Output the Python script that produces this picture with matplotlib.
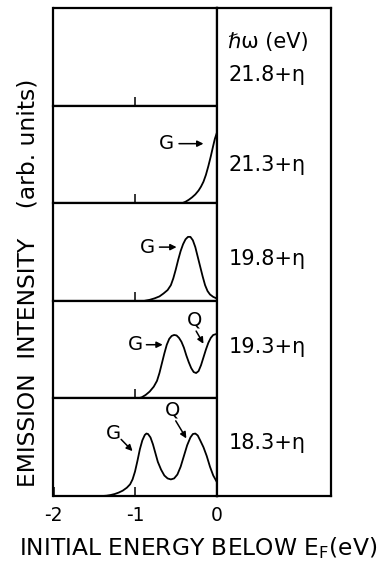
#!/usr/bin/env python3
"""
Photoemission energy distribution curves at several photon energies
(stacked panels, G and Q features marked).
Output: out.png  (387 x 564 px)
"""

import matplotlib
matplotlib.use("Agg")
import matplotlib.pyplot as plt

plt.rcParams['font.family'] = ['DejaVu Sans']
plt.rcParams['mathtext.default'] = 'regular'

# ── DATA ──────────────────────────────────────────────────────────────────
photon_labels = ["21.8+η", "21.3+η", "19.8+η", "19.3+η", "18.3+η"]

# panel 1 (21.8 eV) is empty
e_213 = [-0.42, -0.38, -0.34, -0.30, -0.26, -0.22, -0.19, -0.16, -0.13,
         -0.10, -0.07, -0.04, -0.02, 0.0]
i_213 = [0.00, 0.015, 0.035, 0.06, 0.09, 0.13, 0.17, 0.22, 0.29,
         0.38, 0.48, 0.59, 0.66, 0.71]

e_198 = [-0.88, -0.82, -0.76, -0.70, -0.65, -0.60, -0.56, -0.53, -0.50,
         -0.47, -0.44, -0.41, -0.38, -0.35, -0.32, -0.29, -0.26, -0.23,
         -0.20, -0.17, -0.14, -0.11, -0.08, -0.04, 0.0]
i_198 = [0.00, 0.01, 0.025, 0.045, 0.075, 0.11, 0.16, 0.23, 0.32,
         0.42, 0.51, 0.58, 0.63, 0.655, 0.655, 0.62, 0.55, 0.45,
         0.35, 0.25, 0.16, 0.10, 0.065, 0.04, 0.025]

e_193 = [-0.97, -0.92, -0.87, -0.82, -0.77, -0.73, -0.70, -0.67, -0.64,
         -0.61, -0.58, -0.55, -0.52, -0.49, -0.46, -0.43, -0.40, -0.37,
         -0.34, -0.31, -0.28, -0.25, -0.22, -0.19, -0.16, -0.13, -0.10,
         -0.07, -0.04, 0.0]
i_193 = [0.00, 0.01, 0.035, 0.07, 0.12, 0.18, 0.26, 0.36, 0.46,
         0.55, 0.61, 0.64, 0.65, 0.645, 0.62, 0.58, 0.52, 0.44,
         0.37, 0.31, 0.27, 0.26, 0.28, 0.34, 0.42, 0.50, 0.57,
         0.62, 0.65, 0.66]

e_183 = [-2.0, -1.40, -1.35, -1.30, -1.25, -1.20, -1.15, -1.10, -1.06,
         -1.03, -1.00, -0.97, -0.94, -0.91, -0.88, -0.86, -0.84, -0.81,
         -0.78, -0.75, -0.72, -0.68, -0.64, -0.60, -0.56, -0.52, -0.48,
         -0.44, -0.40, -0.36, -0.32, -0.29, -0.26, -0.23, -0.20, -0.16,
         -0.12, -0.08, -0.04, 0.0]
i_183 = [0.0, 0.0, 0.003, 0.01, 0.02, 0.035, 0.055, 0.085, 0.12,
         0.17, 0.25, 0.36, 0.48, 0.57, 0.625, 0.64, 0.635, 0.60,
         0.53, 0.44, 0.35, 0.27, 0.21, 0.18, 0.17, 0.18, 0.22,
         0.30, 0.41, 0.52, 0.60, 0.635, 0.64, 0.62, 0.57, 0.50,
         0.41, 0.30, 0.21, 0.15]

curves = [None, (e_213, i_213), (e_198, i_198), (e_193, i_193), (e_183, i_183)]

# feature labels: panel, text, text position, arrow tail, arrow head
marks = [
    (1, "G", (-0.61, 0.61), (-0.46, 0.61), (-0.16, 0.61)),
    (2, "G", (-0.85, 0.55), (-0.70, 0.55), (-0.49, 0.55)),
    (3, "G", (-1.00, 0.55), (-0.86, 0.55), (-0.66, 0.55)),
    (3, "Q", (-0.27, 0.80), (-0.25, 0.69), (-0.16, 0.56)),
    (4, "G", (-1.27, 0.64), (-1.17, 0.58), (-1.03, 0.46)),
    (4, "Q", (-0.54, 0.88), (-0.50, 0.77), (-0.37, 0.59)),
]

# ── LAYOUT (pixels of the 387x564 reference) ──────────────────────────────
W, H = 387, 564
X_LEFT, X_ZERO, X_RIGHT = 53.5, 216.5, 331.0
Y_TOP, Y_BOT = 8.0, 496.0
N = 5
panel_h = (Y_BOT - Y_TOP) / N
LW_BOX = 1.6
LW_CURVE = 1.3

fig = plt.figure(figsize=(W / 100, H / 100), dpi=100)
fig.patch.set_facecolor('white')

axes = []
for k in range(N):
    top = Y_TOP + k * panel_h
    ax = fig.add_axes([X_LEFT / W, 1 - (top + panel_h) / H,
                       (X_ZERO - X_LEFT) / W, panel_h / H])
    ax.set_xlim(-2, 0)
    ax.set_ylim(0, 1)
    ax.set_yticks([])
    ax.set_xticks([-1])
    ax.tick_params(axis='x', direction='in', length=6.5, width=1.1,
                   labelbottom=False, color='black')
    for s in ax.spines.values():
        s.set_linewidth(LW_BOX)
    if curves[k] is not None:
        e, i = curves[k]
        ax.plot(e, i, color='black', lw=LW_CURVE, solid_joinstyle='round',
                clip_on=False)
    axes.append(ax)

# bottom panel carries the energy axis
axb = axes[-1]
axb.set_xticks([-2, -1, 0])
axb.set_xticklabels(['-2', '-1', '0'])
axb.tick_params(axis='x', labelbottom=True, labelsize=13.5, pad=7)
fig.text(198 / W, 1 - 548 / H, 'INITIAL ENERGY BELOW E$_F$(eV)',
         fontsize=16.8, ha='center', va='center')

# feature annotations
for k, txt, xy_t, tail, head in marks:
    axes[k].text(xy_t[0], xy_t[1], txt, fontsize=14, ha='center', va='center')
    axes[k].annotate('', xy=head, xytext=tail,
                     arrowprops=dict(arrowstyle='-|>', color='black', lw=1.1,
                                     mutation_scale=9, shrinkA=0, shrinkB=0))

# right-hand column with photon energies
axr = fig.add_axes([X_ZERO / W, 1 - Y_BOT / H,
                    (X_RIGHT - X_ZERO) / W, (Y_BOT - Y_TOP) / H])
axr.set_xticks([])
axr.set_yticks([])
for s in axr.spines.values():
    s.set_linewidth(LW_BOX)

col_w = X_RIGHT - X_ZERO
col_h = Y_BOT - Y_TOP
label_y = [75, 165, 259, 347, 443]
axr.text(12 / col_w, 1 - (42 - Y_TOP) / col_h, 'ℏω (eV)', fontsize=15,
         transform=axr.transAxes, va='center')
for lab, yp in zip(photon_labels, label_y):
    axr.text(12 / col_w, 1 - (yp - Y_TOP) / col_h, lab, fontsize=15,
             transform=axr.transAxes, va='center')

fig.text(28 / W, 1 - 283 / H, 'EMISSION  INTENSITY    (arb. units)',
         rotation=90, fontsize=16.8, ha='center', va='center')

plt.savefig('out.png', dpi=100, facecolor=fig.get_facecolor())
